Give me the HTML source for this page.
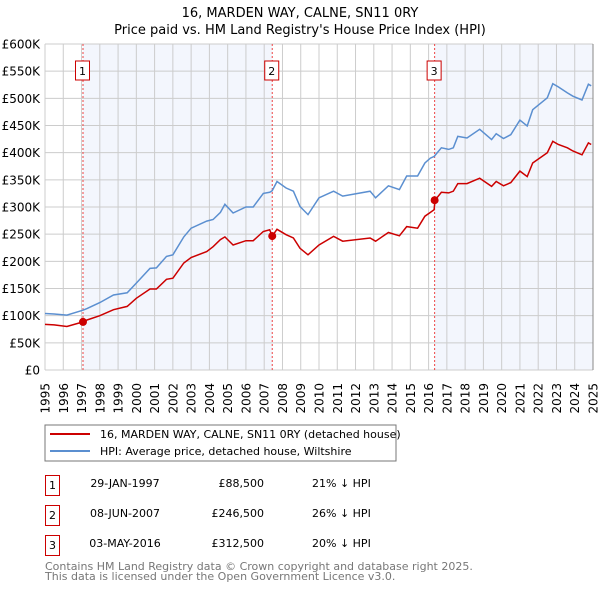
<!DOCTYPE html>
<html><head><meta charset="utf-8"><style>
body{margin:0;background:#fff;font-family:"Liberation Sans","DejaVu Sans",sans-serif;}
svg text{font-family:"DejaVu Sans","Liberation Sans",sans-serif;}
</style></head><body>
<svg width="600" height="590" viewBox="0 0 600 590" xmlns="http://www.w3.org/2000/svg">
<text x="300" y="17" text-anchor="middle" font-size="13">16, MARDEN WAY, CALNE, SN11 0RY</text>
<text x="300" y="34" text-anchor="middle" font-size="13">Price paid vs. HM Land Registry's House Price Index (HPI)</text>
<g id="plot"></g>
<rect x="45" y="425" width="351" height="36" fill="#fff" stroke="#777"/>
<line x1="50" y1="434" x2="90" y2="434" stroke="#cc0000" stroke-width="2"/>
<text x="100" y="438" font-size="11">16, MARDEN WAY, CALNE, SN11 0RY (detached house)</text>
<line x1="50" y1="451" x2="90" y2="451" stroke="#5b8fd0" stroke-width="2"/>
<text x="100" y="455" font-size="11">HPI: Average price, detached house, Wiltshire</text>
<g font-size="11">
<rect x="45.5" y="475.5" width="14" height="20" fill="none" stroke="#cc0000"/><text x="52.5" y="489" text-anchor="middle">1</text>
<text x="125" y="487" text-anchor="middle">29-JAN-1997</text>
<text x="264" y="487" text-anchor="end">£88,500</text>
<text x="312" y="487">21% ↓ HPI</text>
<rect x="45.5" y="505.5" width="14" height="20" fill="none" stroke="#cc0000"/><text x="52.5" y="519" text-anchor="middle">2</text>
<text x="125" y="517" text-anchor="middle">08-JUN-2007</text>
<text x="264" y="517" text-anchor="end">£246,500</text>
<text x="312" y="517">26% ↓ HPI</text>
<rect x="45.5" y="535.5" width="14" height="20" fill="none" stroke="#cc0000"/><text x="52.5" y="549" text-anchor="middle">3</text>
<text x="125" y="547" text-anchor="middle">03-MAY-2016</text>
<text x="264" y="547" text-anchor="end">£312,500</text>
<text x="312" y="547">20% ↓ HPI</text>
</g>
<text x="45" y="570" font-size="11" fill="#777">Contains HM Land Registry data © Crown copyright and database right 2025.</text>
<text x="45" y="580" font-size="11" fill="#777">This data is licensed under the Open Government Licence v3.0.</text>
</svg>
<script>
const years=[1995,1995.5,1996.2,1997.08,1997.3,1998,1998.75,1999.5,2000,2000.75,2001.1,2001.65,2002,2002.6,2003,2003.85,2004.2,2004.6,2004.85,2005.3,2006,2006.4,2006.95,2007.3,2007.44,2007.7,2008.2,2008.6,2008.96,2009.4,2010,2010.8,2011.3,2012.8,2013.1,2013.8,2014.4,2014.8,2015.4,2015.8,2016.1,2016.3,2016.35,2016.7,2017.1,2017.35,2017.6,2018.1,2018.8,2019.45,2019.7,2020.1,2020.5,2021,2021.4,2021.7,2022.5,2022.8,2023.1,2023.6,2023.9,2024.4,2024.75,2024.9];
const hpi=[104,103,101,110,113,124,138,142,160,187,188,209,212,245,261,274,277,290,305,289,300,300,325,327,330,347,335,329,301,286,317,329,320,329,317,339,332,357,357,381,390,393,395,409,406,409,430,427,443,424,435,426,433,460,449,479,501,527,521,510,504,497,526,523];
const price=[84,83,80,88.5,92,100,111,117,132,149,149,167,169,197,207,218,227,240,245,230,238,238,255,258,246.5,259,249,243,224,212,230,246,237,243,237,253,247,264,261,283,290,295,312.5,327,326,329,343,343,353,338,347,339,345,366,356,381,400,421,415,409,403,396,418,415];
const saleYears=[1997.08,2007.44,2016.33];
const salePrices=[88.5,246.5,312.5];
const saleLabels=["1","2","3"];
const yTicks=[0,50,100,150,200,250,300,350,400,450,500,550,600];
const xTicks=[1995,1996,1997,1998,1999,2000,2001,2002,2003,2004,2005,2006,2007,2008,2009,2010,2011,2012,2013,2014,2015,2016,2017,2018,2019,2020,2021,2022,2023,2024,2025];

const NS="http://www.w3.org/2000/svg";
const L=45,R=593,T=44,B=370;
const X=y=>L+(y-1995)/30*(R-L);
const Y=v=>B-v/600*(B-T);
const g=document.getElementById('plot');
function mk(tag,at){const e=document.createElementNS(NS,tag);for(const k in at)e.setAttribute(k,at[k]);g.appendChild(e);return e;}
let s1=mk('rect',{x:X(saleYears[0]),y:T,width:X(saleYears[1])-X(saleYears[0]),height:B-T,fill:'#f3f6fd'});


let s2=mk('rect',{x:X(saleYears[2]),y:T,width:R-X(saleYears[2]),height:B-T,fill:'#f3f6fd'});


yTicks.forEach(v=>{
  const l=mk('line',{x1:L,x2:R,y1:Y(v),y2:Y(v),stroke:'#cccccc'});
  
  
  const t=mk('text',{x:40,y:Y(v)+4.5,'text-anchor':'end','font-size':12});
  t.textContent=v===0?'£0':'£'+v+'K';
  
  
});
xTicks.forEach(yr=>{
  const l=mk('line',{x1:X(yr),x2:X(yr),y1:T,y2:B,stroke:'#cccccc'});
  
  
  const t=mk('text',{x:0,y:0,'text-anchor':'end','font-size':12,transform:`translate(${X(yr)+4.5},383) rotate(-90)`});
  t.textContent=yr;
  
  
});
saleYears.forEach((yr,i)=>{
  const l=mk('line',{x1:X(yr),x2:X(yr),y1:T,y2:B,stroke:'#ee4444','stroke-dasharray':'2,2','stroke-width':1});
  
  
  const r=mk('rect',{x:X(yr)-7.5,y:61,width:14,height:19,fill:'#fff',stroke:'#cc0000'});
  
  
  const t=mk('text',{x:X(yr)-0.5,y:75,'text-anchor':'middle','font-size':11});
  t.textContent=saleLabels[i];
  
  
});
const pts=a=>a.map((v,i)=>X(years[i]).toFixed(1)+','+Y(v).toFixed(1)).join(' ');
const hl=mk('polyline',{points:pts(hpi),fill:'none',stroke:'#5b8fd0','stroke-width':1.5});


const pl=mk('polyline',{points:pts(price),fill:'none',stroke:'#cc0000','stroke-width':1.5});


saleYears.forEach((yr,i)=>{
  const c=mk('circle',{cx:X(yr),cy:Y(salePrices[i]),r:4,fill:'#cc0000'});
  
  
});
const ax=mk('line',{x1:R,x2:R,y1:T,y2:B,stroke:'#888'});


</script>
</body></html>
